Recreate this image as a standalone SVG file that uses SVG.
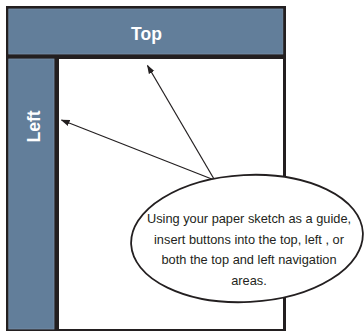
<svg xmlns="http://www.w3.org/2000/svg" width="364" height="332" viewBox="0 0 364 332">
  <style>
    .bar { fill: #627e9a; stroke: #7890a8; stroke-width: 0.8; }
    .label { font-family: "Liberation Sans", Arial, sans-serif; font-weight: bold; font-size: 17.5px; fill: #ffffff; text-anchor: middle; }
    .note { font-family: "Liberation Sans", Arial, sans-serif; font-size: 12.8px; fill: #231f20; text-anchor: middle; }
    .arrow { stroke: #231f20; stroke-width: 1.2; fill: none; marker-end: url(#head); }
  </style>
  <defs>
    <marker id="head" viewBox="0 0 10 10" refX="9" refY="5" markerWidth="9" markerHeight="9" markerUnits="userSpaceOnUse" orient="auto">
      <path d="M0,1.5 L10,5 L0,8.5 Z" fill="#231f20"/>
    </marker>
  </defs>
  <rect width="364" height="332" fill="#ffffff"/>

  <!-- page frame -->
  <g id="frame">
    <rect x="6" y="6" width="280" height="325" fill="#231f20"/>
    <rect x="59" y="59" width="224" height="270" fill="#ffffff"/>
  </g>

  <!-- top navigation area -->
  <g id="top">
    <rect class="bar" x="8.8" y="9" width="274" height="45"/>
    <text class="label" x="146.5" y="39.5">Top</text>
  </g>

  <!-- left navigation area -->
  <g id="left">
    <rect class="bar" x="8.8" y="59" width="45.2" height="270"/>
    <text class="label" transform="translate(39.5,126.5) rotate(-90)">Left</text>
  </g>

  <!-- pointers from the note -->
  <g id="connectors">
    <line class="arrow" x1="214" y1="179" x2="147.5" y2="65.5"/>
    <line class="arrow" x1="213" y1="179.5" x2="61.5" y2="120"/>
  </g>

  <!-- instruction bubble -->
  <g id="note">
    <ellipse cx="247" cy="238.5" rx="116" ry="63.5" transform="rotate(-3 247 238.5)" fill="#ffffff" stroke="#231f20" stroke-width="1.8"/>
    <text class="note" x="249" y="223">Using your paper sketch as a guide,</text>
    <text class="note" x="249" y="243.5">insert buttons into the top, left , or</text>
    <text class="note" x="249" y="264">both the top and left navigation</text>
    <text class="note" x="249" y="284.5">areas.</text>
  </g>
</svg>
